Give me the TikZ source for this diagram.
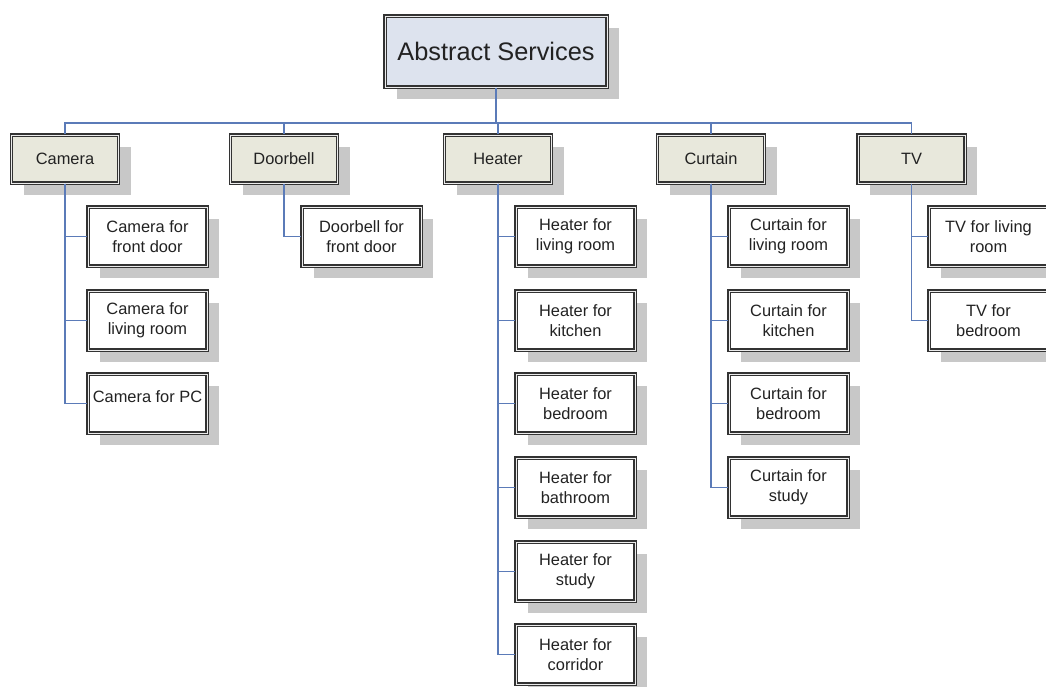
\documentclass[tikz,border=0pt]{standalone}
\usepackage{fontspec}
\setmainfont{Liberation Sans}
\usetikzlibrary{shadows}
\definecolor{topfill}{HTML}{DDE3EE}
\definecolor{midfill}{HTML}{E8E8DC}
\definecolor{bordc}{HTML}{333333}
\definecolor{linkc}{HTML}{5B7BB8}
\definecolor{shadc}{HTML}{C8C8C8}
\definecolor{textc}{HTML}{222222}
\tikzset{
  boxbase/.style={draw=bordc, line width=1.1pt, double=white!85!gray, double distance=0.6pt,
    inner sep=0pt, align=center, text=textc,
    drop shadow={shadow xshift=9pt, shadow yshift=-9pt, fill=shadc, opacity=1}},
  topbox/.style={boxbase, fill=topfill, minimum width=166.5pt, minimum height=53.25pt,
    font=\fontsize{19}{22}\selectfont},
  midbox/.style={boxbase, fill=midfill, minimum width=80.25pt, minimum height=36pt,
    font=\fontsize{12.3}{15}\selectfont},
  childbox/.style={boxbase, fill=white, minimum width=89.25pt, minimum height=44.25pt,
    font=\fontsize{12.3}{15}\selectfont},
  link/.style={draw=linkc, line width=0.8pt},
  mainlink/.style={draw=linkc, line width=1.4pt},
}
\begin{document}
\begin{tikzpicture}[x=0.75pt, y=-0.75pt]
\clip (0,0) rectangle (1046,686);
\fill[white] (0,0) rectangle (1046,686);

% top
\node[topbox] (top) at (496,51.5) {Abstract Services};

% level 2
\node[midbox] (cam) at (65,159) {Camera};
\node[midbox] (door) at (284,159) {Doorbell};
\node[midbox] (heat) at (498,159) {Heater};
\node[midbox] (curt) at (711,159) {Curtain};
\node[midbox] (tv) at (911.5,159) {TV};

% camera children
\node[childbox] (cam1) at (147.5,236.5) {Camera for\\front door};
\node[childbox] (cam2) at (147.5,320.5) {Camera for\\living room};
\node[childbox, label={[font=\fontsize{12.3}{15}\selectfont, text=textc, yshift=5pt]center:Camera for PC}] (cam3) at (147.5,403.5) {};

% doorbell children
\node[childbox] (door1) at (361.5,236.5) {Doorbell for\\front door};

% heater children
\node[childbox] (heat1) at (575.5,236.5) {Heater for\\living room};
\node[childbox] (heat2) at (575.5,320.5) {Heater for\\kitchen};
\node[childbox] (heat3) at (575.5,403.5) {Heater for\\bedroom};
\node[childbox] (heat4) at (575.5,487.5) {Heater for\\bathroom};
\node[childbox] (heat5) at (575.5,571.5) {Heater for\\study};
\node[childbox] (heat6) at (575.5,654.5) {Heater for\\corridor};

% curtain children
\node[childbox] (curt1) at (788.5,236.5) {Curtain for\\living room};
\node[childbox] (curt2) at (788.5,320.5) {Curtain for\\kitchen};
\node[childbox] (curt3) at (788.5,403.5) {Curtain for\\bedroom};
\node[childbox] (curt4) at (788.5,487.5) {Curtain for\\study};

% tv children
\node[childbox] (tv1) at (988.5,236.5) {TV for living\\room};
\node[childbox] (tv2) at (988.5,320.5) {TV for\\bedroom};

% connectors
\coordinate (bus) at (496,123);
\draw[mainlink] (top.south) -- (bus);
\draw[link] (bus) -| (cam.north);
\draw[link] (bus) -| (door.north);
\draw[link] (bus) -| (heat.north);
\draw[link] (bus) -| (curt.north);
\draw[link] (bus) -| (tv.north);

\foreach \c in {cam1,cam2,cam3} \draw[link] (cam.south) |- (\c.west);
\draw[link] (door.south) |- (door1.west);
\foreach \c in {heat1,heat2,heat3,heat4,heat5,heat6} \draw[link] (heat.south) |- (\c.west);
\foreach \c in {curt1,curt2,curt3,curt4} \draw[link] (curt.south) |- (\c.west);
\foreach \c in {tv1,tv2} \draw[link] (tv.south) |- (\c.west);
\end{tikzpicture}
\end{document}
